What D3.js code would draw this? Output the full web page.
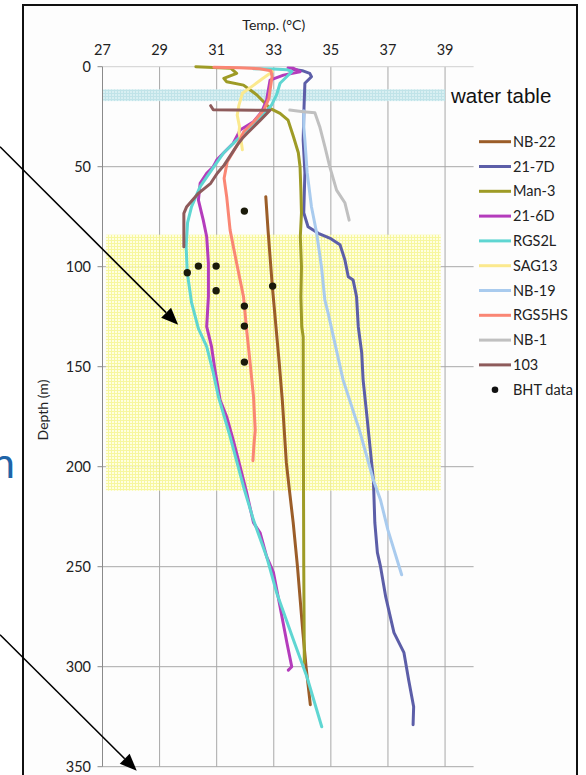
<!DOCTYPE html>
<html><head><meta charset="utf-8">
<script src="https://cdn.jsdelivr.net/npm/d3@7"></script>
<style>body{margin:0;background:#fff;overflow:hidden}</style>
</head><body><svg id="c" width="586" height="775"></svg>
<script>
// ---- data ----
const tempTicks = [27, 29, 31, 33, 35, 37, 39];
const depthTicks = [0, 50, 100, 150, 200, 250, 300, 350];
const seriesNames = ["NB-22","21-7D","Man-3","21-6D","RGS2L","SAG13","NB-19","RGS5HS","NB-1","103"];
const seriesColors = ["#9b5d28","#5c5ea8","#9e9b26","#b43cbc","#5fd6d2","#fbe98e","#a9cbee","#fa8674","#c0c0c0","#8e5b5b"];

const nb22 = [[32.72,65],[32.8,82],[32.95,110],[33.19,148],[33.3,167],[33.44,198],[33.55,212],[33.68,228],[33.83,250],[34.02,283],[34.13,300],[34.28,319]];
const d217 = [[33.68,1.3],[34.0,2],[34.26,3.3],[34.32,5],[34.09,8.3],[34.06,20],[34.03,36.7],[34.09,53],[34.05,73],[34.2,80],[34.56,83.3],[35.0,86],[35.32,89],[35.49,96.5],[35.61,105],[35.78,106.7],[35.9,115],[35.96,130],[36.08,143],[36.13,156.7],[36.25,173],[36.37,190],[36.49,206.7],[36.54,228],[36.63,243],[36.74,250],[36.92,265],[37.21,283],[37.56,293],[37.73,307],[37.9,320],[37.88,329]];
const man3 = [[30.27,0],[31.5,0.8],[31.7,3.3],[31.25,5.8],[31.35,7.5],[31.94,9.2],[32.4,14],[32.87,20.8],[33.22,23.3],[33.5,26.7],[33.69,35],[33.86,43],[33.92,50],[33.95,62],[33.97,73],[33.93,85],[33.97,100],[33.95,115],[33.98,130],[34.03,135],[34.04,200],[34.05,250],[34.07,298]];
const d216 = [[33.5,0.6],[33.69,0.8],[33.92,2.5],[33.34,4.2],[32.87,6.7],[32.81,11.7],[32.75,16.7],[32.58,22.5],[32.29,27.5],[31.82,31.7],[31.58,38.3],[31.23,43.3],[31.0,46.7],[30.88,50],[30.65,53.3],[30.42,58.3],[30.36,66.7],[30.53,76.7],[30.65,85],[30.71,98.3],[30.71,115],[30.65,130],[30.82,140],[30.94,151.7],[31.12,166.7],[31.35,175],[31.58,186.7],[31.82,200],[32.05,213],[32.29,228],[32.52,233],[32.75,245],[32.99,253],[33.22,270],[33.46,288],[33.63,300],[33.51,301.7]];
const rgs2l = [[32.29,1],[33.0,1.2],[33.46,1.5],[33.63,2.5],[33.22,8.3],[33.1,14],[32.93,19],[32.58,25],[32.17,30.8],[31.7,36.7],[31.23,43.3],[30.82,51.7],[30.42,60],[30.12,70],[29.98,78],[29.93,90],[29.97,103],[30.12,118],[30.36,131],[30.65,140],[30.88,153],[31.06,165],[31.47,185],[31.94,210],[32.29,226.7],[32.75,245],[33.1,263],[33.69,286.7],[34.16,305],[34.68,330]];
const sag13 = [[32.95,2.5],[32.6,6],[32.3,9.2],[31.9,13.3],[31.78,19.2],[31.72,24.2],[31.8,30],[31.78,33],[31.86,37.5],[31.9,41.5]];
const nb19 = [[34.05,22],[34.05,30],[34.09,36.7],[34.17,53],[34.32,70],[34.5,83],[34.67,100],[34.79,116.7],[34.9,123],[35.43,156.7],[36.0,181.7],[36.49,206.7],[36.74,216.7],[37.0,231.7],[37.48,254]];
const rgs5hs = [[30.9,0.3],[31.8,0.5],[32.5,1],[32.9,2],[32.94,5],[32.88,10.8],[32.83,15.8],[32.65,21.7],[32.3,27.5],[31.95,32.5],[31.72,39.2],[31.37,47.5],[31.26,55.8],[31.35,65],[31.47,81.7],[31.7,98.3],[31.94,115],[32.05,131.7],[32.17,148],[32.29,165],[32.35,181.7],[32.3,190],[32.27,197]];
const nb1 = [[33.56,21.7],[34.03,22.5],[34.44,23],[34.61,30],[34.79,40],[34.96,50],[35.2,61.7],[35.49,68],[35.64,76.7]];
const s103 = [[30.79,19.5],[30.88,21.5],[32.87,21.8],[32.53,26.7],[32.3,30],[32.07,33.3],[31.9,35.8],[31.72,39.2],[31.49,44.2],[31.26,49.2],[31.02,53.3],[30.79,58.3],[30.36,63.3],[29.95,70],[29.85,73.3],[29.85,90]];
const seriesData = [nb22, d217, man3, d216, rgs2l, sag13, nb19, rgs5hs, nb1, s103];

const bht = [[29.97,103],[30.36,99.7],[30.98,99.7],[30.98,112],[31.97,119.7],[31.97,129.7],[31.97,147.7],[32.96,109.7],[31.97,72.2]];
const waterTable = [11.3, 17.2];           // depth range
const zoneDepth = [84, 212];               // yellow zone depth range
const zoneTemp = [27.12, 38.85];           // yellow zone temp range
const arrows = [ {from:[23.41,40], to:[29.65,129]}, {from:[23.41,284], to:[28.2,352]} ];

// ---- drawing ----
const svg = d3.select("#c");
const x = d3.scaleLinear([27, 40], [102.5, 473.6]);
const y = d3.scaleLinear([0, 350], [66.7, 766.7]);
const defs = svg.append("defs");

const pY = defs.append("pattern").attr("id","py").attr("width",3).attr("height",3).attr("patternUnits","userSpaceOnUse");
pY.append("rect").attr("width",3).attr("height",3).attr("fill","#ffffdc");
pY.append("path").attr("d","M0,0.5H3M0.5,0V3").attr("stroke","#f6f68e").attr("stroke-width",1);
const pW = defs.append("pattern").attr("id","pw").attr("width",3).attr("height",3).attr("patternUnits","userSpaceOnUse");
pW.append("rect").attr("width",3).attr("height",3).attr("fill","#d8eff2");
pW.append("path").attr("d","M0,0.5H3M0.5,0V3").attr("stroke","#c0e3e8").attr("stroke-width",1);
defs.append("clipPath").attr("id","frame").append("rect").attr("x",23).attr("y",5).attr("width",554).attr("height",775);

svg.append("rect").attr("width",586).attr("height",775).attr("fill","#fff");
const g = svg.append("g").attr("clip-path","url(#frame)");
g.append("rect").attr("x",23).attr("y",5).attr("width",554).attr("height",775).attr("fill","#fdfdfd");

// gridlines
g.append("g").selectAll("line").data(tempTicks.slice(1)).join("line")
  .attr("x1",d=>x(d)).attr("x2",d=>x(d)).attr("y1",y(0)).attr("y2",y(350))
  .attr("stroke","#a8a8a8").attr("stroke-width",1);
g.append("g").selectAll("line").data(depthTicks).join("line")
  .attr("x1",x(27)).attr("x2",x(40)).attr("y1",d=>y(d)).attr("y2",d=>y(d))
  .attr("stroke",d=>d===0?"#d0d0d0":"#a8a8a8").attr("stroke-width",1);

// bands
g.append("rect").attr("x",x(zoneTemp[0])).attr("width",x(zoneTemp[1])-x(zoneTemp[0]))
  .attr("y",y(zoneDepth[0])).attr("height",y(zoneDepth[1])-y(zoneDepth[0]))
  .attr("fill","url(#py)").attr("opacity",0.85);
g.append("rect").attr("x",x(27)).attr("width",x(39)-x(27))
  .attr("y",y(waterTable[0])).attr("height",y(waterTable[1])-y(waterTable[0]))
  .attr("fill","url(#pw)");

// y axis
g.append("line").attr("x1",x(27)).attr("x2",x(27)).attr("y1",y(0)).attr("y2",y(350)).attr("stroke","#8a8a8a");
g.append("g").selectAll("line").data(depthTicks).join("line")
  .attr("x1",x(27)-5).attr("x2",x(27)).attr("y1",d=>y(d)).attr("y2",d=>y(d)).attr("stroke","#8a8a8a");
g.append("g").selectAll("text").data(depthTicks).join("text")
  .attr("x",91).attr("y",d=>y(d)+5).attr("text-anchor","end")
  .attr("font-family","Lato, 'Open Sans', sans-serif").attr("font-size",14.5).attr("fill","#222").text(d=>d);
g.append("g").selectAll("text").data(tempTicks).join("text")
  .attr("x",d=>x(d)).attr("y",55).attr("text-anchor","middle")
  .attr("font-family","Lato, 'Open Sans', sans-serif").attr("font-size",14.5).attr("fill","#222").text(d=>d);
g.append("text").attr("x",x(33)).attr("y",30).attr("text-anchor","middle")
  .attr("font-family","Lato, 'Open Sans', sans-serif").attr("font-size",14).attr("fill","#222").text("Temp. (°C)");
g.append("text").attr("transform","translate(48,410) rotate(-90)").attr("text-anchor","middle")
  .attr("font-family","Lato, 'Open Sans', sans-serif").attr("font-size",14).attr("fill","#222").text("Depth (m)");

// series
const line = d3.line().x(d=>x(d[0])).y(d=>y(d[1]));
g.append("g").selectAll("path").data(seriesData).join("path")
  .attr("d",line).attr("fill","none").attr("stroke",(d,i)=>seriesColors[i])
  .attr("stroke-width",3).attr("stroke-linejoin","round").attr("stroke-linecap","round");

// BHT points
g.append("g").selectAll("circle").data(bht).join("circle")
  .attr("cx",d=>x(d[0])).attr("cy",d=>y(d[1])).attr("r",3.7).attr("fill","#1a1a0a");

// water table label
g.append("text").attr("x",451).attr("y",103).attr("font-family","'Liberation Sans', Arial, sans-serif")
  .attr("font-size",20.5).attr("fill","#111").text("water table");

// legend
const lg = g.append("g");
const rowY = i => 141.7 + i*24.8;
lg.selectAll("line").data(seriesNames).join("line")
  .attr("x1",479).attr("x2",511).attr("y1",(d,i)=>rowY(i)).attr("y2",(d,i)=>rowY(i))
  .attr("stroke",(d,i)=>seriesColors[i]).attr("stroke-width",3);
lg.selectAll("text").data(seriesNames.concat(["BHT data"])).join("text")
  .attr("x",513).attr("y",(d,i)=>rowY(i)+5).attr("font-family","Lato, 'Open Sans', sans-serif")
  .attr("font-size",14.5).attr("fill","#222").text(d=>d);
lg.append("circle").attr("cx",495).attr("cy",rowY(10)).attr("r",3.3).attr("fill","#111");

// frame
svg.append("path").attr("d","M23,780V5H577V780").attr("fill","none").attr("stroke","#111").attr("stroke-width",2);

// outside annotations (slide fragments: cropped word ending and arrows)
svg.append("text").attr("x",15).attr("y",478).attr("text-anchor","end")
  .attr("font-family","Lato, 'Open Sans', sans-serif").attr("font-size",42).attr("fill","#1f64a8").text("n");
arrows.forEach(a=>{
  const x0=x(a.from[0]), y0=y(a.from[1]), x1=x(a.to[0]), y1=y(a.to[1]);
  const ang=Math.atan2(y1-y0,x1-x0), L=17, W=7;
  const bx=x1-L*Math.cos(ang), by=y1-L*Math.sin(ang);
  svg.append("line").attr("x1",x0).attr("y1",y0).attr("x2",bx).attr("y2",by).attr("stroke","#000").attr("stroke-width",1.6);
  const px=-Math.sin(ang)*W, py=Math.cos(ang)*W;
  svg.append("path").attr("d",`M${x1},${y1}L${bx+px},${by+py}L${bx-px},${by-py}Z`).attr("fill","#000");
});
</script></body></html>
